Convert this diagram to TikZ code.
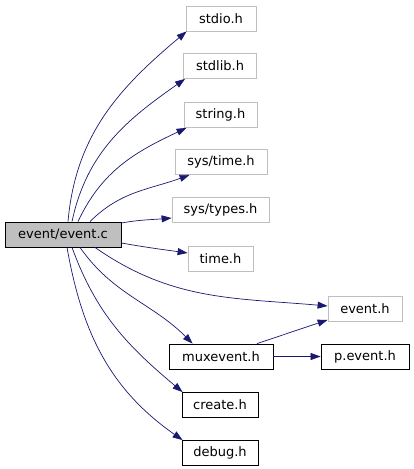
\documentclass[tikz,border=0pt]{standalone}
\usepackage{fontspec}
\setmainfont{DejaVu Sans}
\usetikzlibrary{arrows.meta}
\definecolor{edgeblue}{RGB}{25,25,112}
\definecolor{sysgray}{RGB}{191,191,191}
\begin{document}
\begin{tikzpicture}[x=1pt,y=-1pt,
  font=\fontsize{13}{15}\selectfont,
  box/.style={draw=black,line width=0.8pt,inner sep=0pt,minimum height=25pt,text=black},
  sysbox/.style={box,draw=sysgray},
  mainbox/.style={box,fill=sysgray},
  edge/.style={draw=edgeblue,line width=0.7pt,-{Triangle[length=10pt,width=7pt]}}]
\useasboundingbox (0,0) rectangle (413,469);
\node[mainbox,minimum width=116pt] (c) at (63,234.5) {event/event.c};
\node[sysbox,minimum width=70pt] (stdio) at (221,18.5) {stdio.h};
\node[sysbox,minimum width=73pt] (stdlib) at (220,66) {stdlib.h};
\node[sysbox,minimum width=73pt] (string) at (220.5,115) {string.h};
\node[sysbox,minimum width=92pt] (systime) at (221,162) {sys/time.h};
\node[sysbox,minimum width=97pt] (systypes) at (220.5,210) {sys/types.h};
\node[sysbox,minimum width=65pt] (time) at (220.5,258.5) {time.h};
\node[sysbox,minimum width=74pt] (eventh) at (365,309) {event.h};
\node[box,minimum width=104pt] (mux) at (221,356.5) {muxevent.h};
\node[box,minimum width=88pt] (pevent) at (365,356.5) {p.event.h};
\node[box,minimum width=76pt] (create) at (220,405) {create.h};
\node[box,minimum width=76pt] (debug) at (220,453) {debug.h};
\draw[edge] ([xshift=5pt]c.north) to[out=85,in=220] ([xshift=1pt]stdio.south west);
\draw[edge] ([xshift=9pt]c.north) to[out=78,in=215] ([xshift=2pt]stdlib.south west);
\draw[edge] ([xshift=15pt]c.north) to[out=65,in=205] ([xshift=3pt]string.south west);
\draw[edge] ([xshift=27pt]c.north) to[out=45,in=200] ([xshift=15pt]systime.south west);
\draw[edge] ([yshift=11.5pt]c.east) to[out=10,in=185] ([yshift=-8pt]systypes.west);
\draw[edge] ([yshift=-8.5pt]c.east) to[out=-10,in=172] ([yshift=5.5pt]time.west);
\draw[edge] ([xshift=32pt]c.south) to[out=-35,in=175] ([yshift=3pt]eventh.west);
\draw[edge] ([xshift=17pt]c.south) to[out=-55,in=135] ([xshift=24pt]mux.north west);
\draw[edge] ([xshift=9pt]c.south) to[out=-70,in=140] ([xshift=1pt]create.north west);
\draw[edge] ([xshift=4pt]c.south) to[out=-80,in=145] ([xshift=1pt]debug.north west);
\draw[edge] ([xshift=36pt]mux.north) -- ([yshift=2pt]eventh.south west);
\draw[edge] (mux.east) -- (pevent.west);
\end{tikzpicture}
\end{document}
